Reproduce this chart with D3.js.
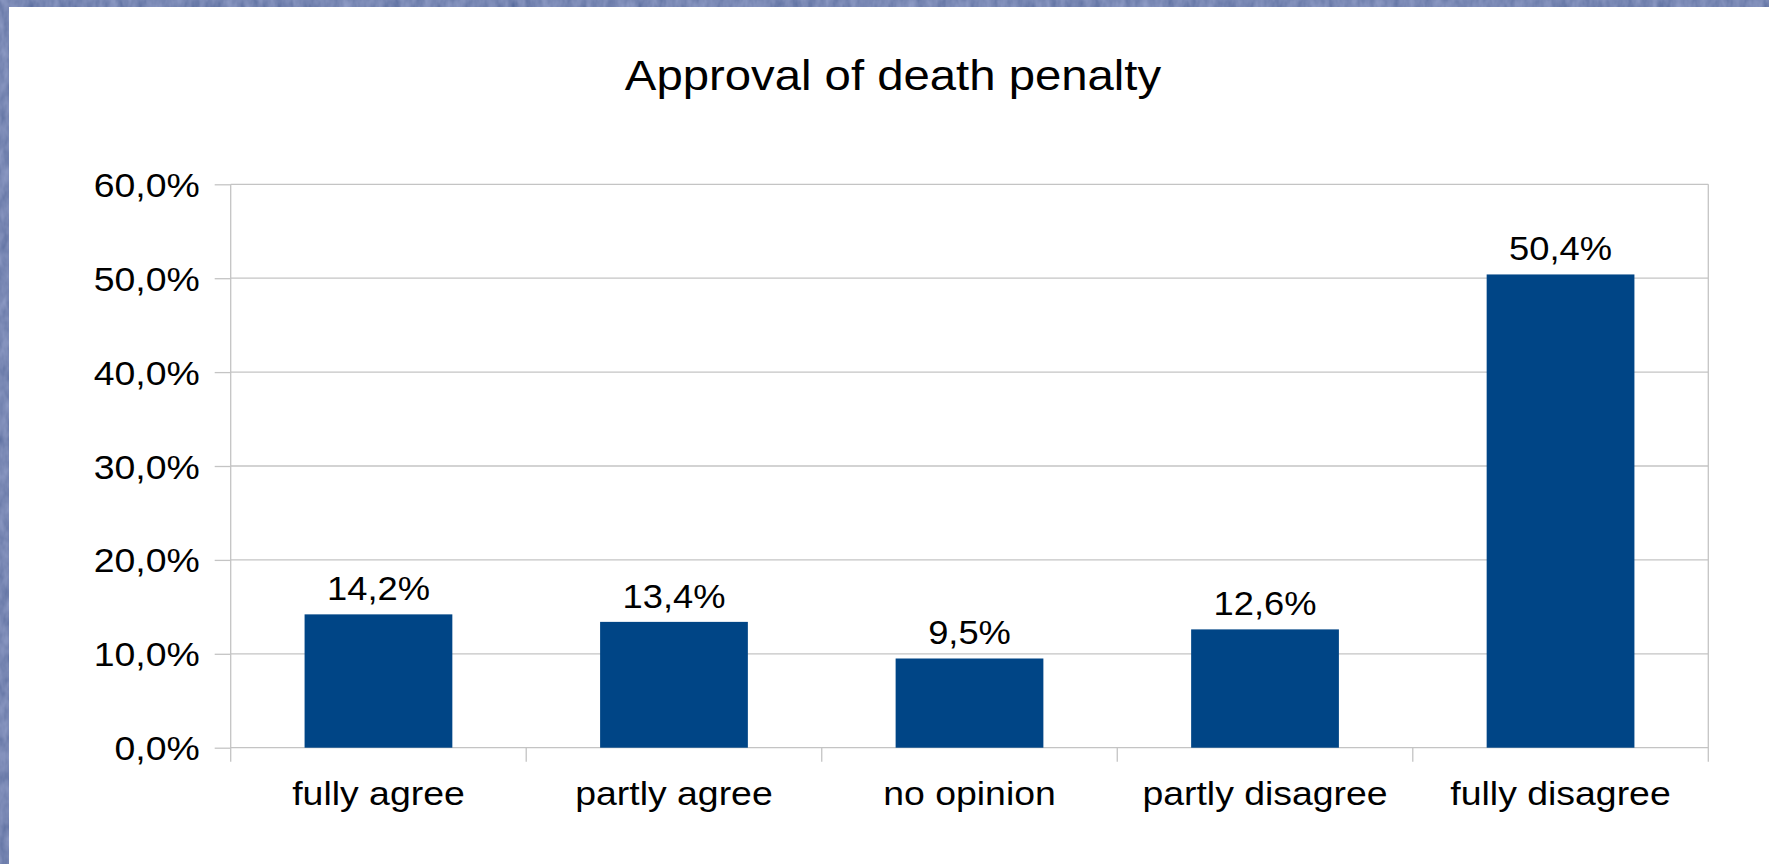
<!DOCTYPE html>
<html>
<head>
<meta charset="utf-8">
<script src="https://cdn.jsdelivr.net/npm/d3@7"></script>
<style>
  html, body { margin: 0; padding: 0; background: #fff; }
  svg { display: block; }
  text { font-family: "Liberation Sans", Arial, sans-serif; fill: #000; }
</style>
</head>
<body>
<svg id="chart" width="1769" height="864"></svg>
<script>
// Survey answers and their shares (%)
const categories = ["fully agree", "partly agree", "no opinion", "partly disagree", "fully disagree"];
const values = [14.2, 13.4, 9.5, 12.6, 50.4];
const yTicks = [0, 10, 20, 30, 40, 50, 60];
const title = "Approval of death penalty";

const W = 1769, H = 864;
const margin = { left: 230.7, right: W - 1708.3, top: 184.3, bottom: H - 747.7 };
const plotW = W - margin.left - margin.right;
const plotH = H - margin.top - margin.bottom;
const stretch = 1.1;          // glyphs are drawn slightly wide
const gridColor = "#c4c4c4";
const barColor = "#004586";

const locale = d3.formatLocale({ decimal: ",", thousands: ".", grouping: [3], currency: ["", " €"] });
const fmt1 = locale.format(".1f");
const pct = v => fmt1(v) + "%";

const svg = d3.select("#chart");

// Textured frame behind the white sheet
const defs = svg.append("defs");
const f = defs.append("filter").attr("id", "paper").attr("x", 0).attr("y", 0).attr("width", "100%").attr("height", "100%");
f.append("feTurbulence").attr("type", "fractalNoise").attr("baseFrequency", "0.12 0.06").attr("numOctaves", 3).attr("seed", 7).attr("result", "noise");
f.append("feColorMatrix").attr("in", "noise").attr("type", "matrix")
  .attr("values", "0 0 0 0.55 0.08  0 0 0 0.55 0.15  0 0 0 0.6 0.33  0 0 0 0 1");
svg.append("rect").attr("width", W).attr("height", H).attr("fill", "#53639a");
svg.append("rect").attr("width", W).attr("height", H).attr("filter", "url(#paper)").attr("opacity", 0.5);
svg.append("rect").attr("x", 9).attr("y", 7).attr("width", W - 9).attr("height", H - 7).attr("fill", "#fff");

// Helper for horizontally widened text
function label(g, x, y, str, size, anchor) {
  return g.append("text")
    .attr("transform", `translate(${x},${y}) scale(${stretch},1)`)
    .attr("text-anchor", anchor)
    .attr("font-size", size)
    .text(str);
}

// Title
label(svg, 893, 90, title, 43, "middle");

const x = d3.scaleBand().domain(categories).range([0, plotW]).paddingInner(0.5).paddingOuter(0.25);
const y = d3.scaleLinear().domain([0, 60]).range([plotH, 0]);

const g = svg.append("g").attr("transform", `translate(${margin.left},${margin.top})`);

// Horizontal grid lines
g.append("g").selectAll("line").data(yTicks).join("line")
  .attr("x1", 0).attr("x2", plotW)
  .attr("y1", d => y(d)).attr("y2", d => y(d))
  .attr("stroke", gridColor).attr("stroke-width", 1.3);

// Y axis: outward ticks and labels
const yAxis = d3.axisLeft(y).tickValues(yTicks).tickSize(16).tickPadding(15).tickFormat(pct);
const ya = g.append("g").call(yAxis);
ya.select(".domain").remove();
ya.selectAll(".tick line").attr("stroke", gridColor).attr("stroke-width", 1.3);
ya.selectAll(".tick text").remove();
ya.selectAll(".tick").each(function (d) {
  label(d3.select(this), -31, 12, pct(d), 34, "end");
});
g.append("line").attr("x1", 0).attr("x2", 0).attr("y1", 0).attr("y2", plotH + 14)
  .attr("stroke", gridColor).attr("stroke-width", 1.3);
g.append("line").attr("x1", plotW).attr("x2", plotW).attr("y1", 0).attr("y2", plotH + 14)
  .attr("stroke", gridColor).attr("stroke-width", 1.3);

// Category separators below the baseline
const step = x.step();
g.append("g").selectAll("line").data(d3.range(1, categories.length)).join("line")
  .attr("x1", d => d * step).attr("x2", d => d * step)
  .attr("y1", plotH).attr("y2", plotH + 14)
  .attr("stroke", gridColor).attr("stroke-width", 1.3);

// Category labels
categories.forEach(c => {
  label(g, x(c) + x.bandwidth() / 2, plotH + 57, c, 34, "middle");
});

// Bars
g.append("g").selectAll("rect").data(values).join("rect")
  .attr("x", (d, i) => x(categories[i]))
  .attr("y", d => y(d))
  .attr("width", x.bandwidth())
  .attr("height", d => plotH - y(d))
  .attr("fill", barColor);

// Value labels above bars
values.forEach((v, i) => {
  label(g, x(categories[i]) + x.bandwidth() / 2, y(v) - 14, pct(v), 33, "middle");
});
</script>
</body>
</html>
